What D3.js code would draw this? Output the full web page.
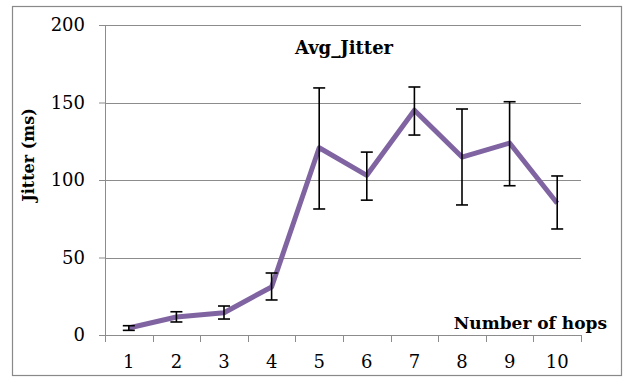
<!DOCTYPE html>
<html>
<head>
<meta charset="utf-8">
<script src="https://cdn.jsdelivr.net/npm/d3@7"></script>
<style>
  body { margin: 0; background: #fff; }
  svg { display: block; }
  .tick text { font-family: "DejaVu Serif", serif; font-size: 18px; fill: #000; }
  .bold { font-family: "DejaVu Serif", serif; font-weight: bold; fill: #000; }
</style>
</head>
<body>
<svg id="chart" width="625" height="378"></svg>
<script>
//

const hops = [1, 2, 3, 4, 5, 6, 7, 8, 9, 10]
const avgJitter = [4.5, 11.6, 14.4, 31, 120.8, 103, 145, 114.8, 123.8, 85]
const errHigh = [6, 15, 18.7, 40, 159.4, 118, 160, 145.8, 150.5, 102.6]
const errLow = [3, 8.4, 10.3, 22.6, 81.3, 87, 129, 83.9, 96.3, 68.4]
const yTicks = [0, 50, 100, 150, 200]

//

const svg = d3.select('#chart')
const margin = {top: 25, right: 44, bottom: 43, left: 105}
const width = 625 - margin.left - margin.right
const height = 378 - margin.top - margin.bottom

svg.append('rect')
  .attr('x', 12.5).attr('y', 6.5)
  .attr('width', 609).attr('height', 369)
  .attr('fill', 'none').attr('stroke', '#898989').attr('stroke-width', 1.2)

const x = d3.scaleBand().domain(hops).range([0, width])
const y = d3.scaleLinear().domain([0, 200]).range([height, 0])

const g = svg.append('g')
  .attr('transform', 'translate(' + margin.left + ',' + margin.top + ')')

// gridlines
g.selectAll('.grid')
  .data(yTicks.filter(d => d > 0))
  .enter().append('line')
  .attr('x1', 0).attr('x2', width)
  .attr('y1', d => Math.round(y(d)) + 0.5).attr('y2', d => Math.round(y(d)) + 0.5)
  .attr('stroke', '#8c8c8c').attr('stroke-width', 1)

const yAxis = g.append('g')
  .call(d3.axisLeft(y).tickValues(yTicks).tickSize(6).tickPadding(14))
yAxis.select('.domain').attr('stroke', '#8c8c8c')
yAxis.selectAll('.tick line').attr('stroke', '#8c8c8c')

// x axis with ticks on band edges
const xAxis = g.append('g')
  .attr('transform', 'translate(0,' + height + ')')
  .call(d3.axisBottom(x).tickSize(0).tickPadding(20))
xAxis.select('.domain').attr('stroke', '#8c8c8c')
xAxis.selectAll('.edge')
  .data(d3.range(hops.length + 1))
  .enter().append('line')
  .attr('x1', i => Math.round(i * x.step()) + 0.5)
  .attr('x2', i => Math.round(i * x.step()) + 0.5)
  .attr('y1', 0).attr('y2', 7)
  .attr('stroke', '#8c8c8c')

const cx = d => x(d) + x.bandwidth() / 2

// line
const line = d3.line()
  .x((d, i) => cx(hops[i]))
  .y(d => y(d))

g.append('path')
  .datum(avgJitter)
  .attr('d', line)
  .attr('fill', 'none')
  .attr('stroke', '#8064a2')
  .attr('stroke-width', 5)
  .attr('stroke-linejoin', 'round')

// error bars
const bars = g.selectAll('.err')
  .data(hops)
  .enter().append('g')
  .attr('stroke', '#000').attr('stroke-width', 1.6)

bars.append('line')
  .attr('x1', d => cx(d)).attr('x2', d => cx(d))
  .attr('y1', (d, i) => y(errHigh[i])).attr('y2', (d, i) => y(errLow[i]))
bars.append('line')
  .attr('x1', d => cx(d) - 6).attr('x2', d => cx(d) + 6)
  .attr('y1', (d, i) => y(errHigh[i])).attr('y2', (d, i) => y(errHigh[i]))
bars.append('line')
  .attr('x1', d => cx(d) - 6).attr('x2', d => cx(d) + 6)
  .attr('y1', (d, i) => y(errLow[i])).attr('y2', (d, i) => y(errLow[i]))

// titles
svg.append('text')
  .attr('class', 'bold')
  .attr('x', 344).attr('y', 54)
  .attr('text-anchor', 'middle')
  .attr('font-size', 18)
  .text('Avg_Jitter')

svg.append('text')
  .attr('class', 'bold')
  .attr('transform', 'translate(34,155) rotate(-90)')
  .attr('text-anchor', 'middle')
  .attr('font-size', 16)
  .text('Jitter (ms)')

svg.append('text')
  .attr('class', 'bold')
  .attr('x', 607).attr('y', 329)
  .attr('text-anchor', 'end')
  .attr('font-size', 17)
  .text('Number of hops')
</script>
</body>
</html>
